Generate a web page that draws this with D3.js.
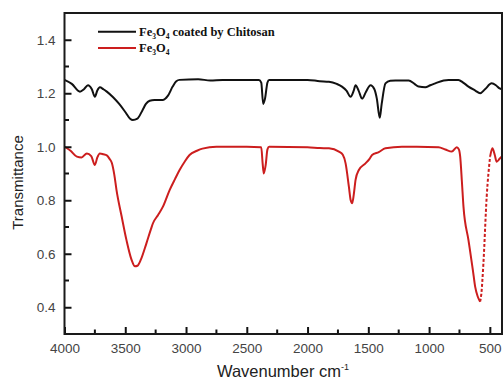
<!DOCTYPE html>
<html>
<head>
<meta charset="utf-8">
<script src="https://cdn.jsdelivr.net/npm/d3@7"></script>
<style>
  body { margin: 0; background: #fff; }
  svg { display: block; }
</style>
</head>
<body>
<svg id="chart" width="504" height="380"></svg>
<script>
// wavenumber (cm-1) and transmittance
const coatedWn = [4000, 3940, 3873, 3840, 3807, 3775, 3750, 3730, 3709, 3680, 3652, 3600, 3550, 3500, 3460, 3438, 3400, 3360, 3330, 3299, 3260, 3193, 3150, 3110, 3080, 3053, 2900, 2800, 2700, 2400, 2381, 2365, 2350, 2330, 2316, 2000, 1900, 1824, 1760, 1717, 1680, 1646, 1620, 1605, 1580, 1551, 1520, 1482, 1450, 1430, 1406, 1390, 1359, 1320, 1277, 1168, 1120, 1086, 1031, 990, 949, 880, 840, 758, 720, 676, 620, 580, 540, 485, 450, 420, 400];
const coatedT = [1.25, 1.235, 1.206, 1.215, 1.23, 1.215, 1.187, 1.21, 1.222, 1.215, 1.206, 1.185, 1.16, 1.13, 1.105, 1.10, 1.105, 1.135, 1.16, 1.172, 1.175, 1.175, 1.19, 1.225, 1.245, 1.25, 1.252, 1.248, 1.25, 1.25, 1.24, 1.16, 1.18, 1.24, 1.25, 1.25, 1.245, 1.243, 1.235, 1.225, 1.21, 1.187, 1.21, 1.23, 1.21, 1.18, 1.205, 1.23, 1.215, 1.18, 1.108, 1.16, 1.237, 1.247, 1.248, 1.248, 1.235, 1.225, 1.222, 1.23, 1.237, 1.248, 1.25, 1.25, 1.24, 1.225, 1.21, 1.2, 1.215, 1.237, 1.23, 1.218, 1.215];

const bareWn = [4000, 3950, 3898, 3860, 3816, 3780, 3750, 3730, 3709, 3680, 3652, 3630, 3611, 3590, 3572, 3530, 3490, 3450, 3420, 3400, 3370, 3326, 3290, 3272, 3230, 3190, 3135, 3090, 3053, 3010, 2971, 2910, 2865, 2750, 2500, 2381, 2370, 2360, 2345, 2330, 2316, 2000, 1900, 1824, 1742, 1710, 1687, 1660, 1645, 1633, 1620, 1605, 1578, 1523, 1490, 1469, 1414, 1359, 1223, 1100, 922, 867, 813, 772, 755, 744, 730, 717, 676, 640, 621, 600, 580, 570, 553, 526, 498, 479, 460, 444, 420, 403];
const bareT = [1.0, 0.985, 0.963, 0.96, 0.975, 0.965, 0.932, 0.96, 0.975, 0.972, 0.968, 0.955, 0.94, 0.895, 0.838, 0.74, 0.651, 0.58, 0.553, 0.555, 0.58, 0.639, 0.69, 0.714, 0.745, 0.776, 0.838, 0.88, 0.913, 0.945, 0.969, 0.985, 0.993, 1.0, 1.0, 0.998, 0.94, 0.90, 0.93, 0.99, 1.0, 0.998, 0.995, 0.994, 0.982, 0.97, 0.938, 0.851, 0.80, 0.789, 0.82, 0.876, 0.913, 0.938, 0.955, 0.969, 0.98, 0.994, 1.0, 1.0, 0.998, 0.99, 0.982, 0.998, 0.99, 0.963, 0.87, 0.776, 0.651, 0.54, 0.477, 0.44, 0.421, 0.45, 0.564, 0.813, 0.963, 0.994, 0.97, 0.944, 0.955, 0.963];

const xTicks = [4000, 3500, 3000, 2500, 2000, 1500, 1000, 500];
const xMinor = [3750, 3250, 2750, 2250, 1750, 1250, 750];
const yTicks = [0.4, 0.6, 0.8, 1.0, 1.2, 1.4];
const yMinor = [0.5, 0.7, 0.9, 1.1, 1.3];

const seriesNames = ["coated", "bare"];

const margin = { top: 13, right: 2, bottom: 46, left: 64.5 };
const width = 504, height = 380;

const svg = d3.select("#chart");

const x = d3.scaleLinear().domain([4000, 400]).range([margin.left, width - margin.right]);
const y = d3.scaleLinear().domain([0.3, 1.5]).range([height - margin.bottom, margin.top]);

const toPts = (wn, t) => wn.map((w, i) => ({ w: w, t: t[i] }));
const coated = toPts(coatedWn, coatedT);
const bare = toPts(bareWn, bareT);

const line = d3.line()
  .x(d => x(d.w))
  .y(d => y(d.t))
  .curve(d3.curveMonotoneX);

// curves
svg.append("path")
  .attr("d", line(coated))
  .attr("fill", "none")
  .attr("stroke", "#111")
  .attr("stroke-width", 2);

// the steep rising edge near 550 cm-1 is drawn sparse (dashed) in the figure
const dashFrom = 580, dashTo = 498;
svg.append("path")
  .attr("d", line(bare.filter(d => d.w >= dashFrom)))
  .attr("fill", "none")
  .attr("stroke", "#cc1e1e")
  .attr("stroke-width", 2);
svg.append("path")
  .attr("d", line(bare.filter(d => d.w <= dashFrom && d.w >= dashTo)))
  .attr("fill", "none")
  .attr("stroke", "#cc1e1e")
  .attr("stroke-width", 2)
  .attr("stroke-dasharray", "3,2");
svg.append("path")
  .attr("d", line(bare.filter(d => d.w <= dashTo)))
  .attr("fill", "none")
  .attr("stroke", "#cc1e1e")
  .attr("stroke-width", 2);

// axes (ticks pointing inward)
const xAxis = d3.axisBottom(x).tickValues(xTicks).tickSizeInner(-7).tickSizeOuter(0).tickPadding(9)
  .tickFormat(d3.format("d"));
const gx = svg.append("g")
  .attr("transform", "translate(0," + (height - margin.bottom) + ")")
  .call(xAxis);
xMinor.forEach(v => {
  gx.append("line").attr("x1", x(v)).attr("x2", x(v)).attr("y1", 0).attr("y2", -4.5)
    .attr("stroke", "#111").attr("stroke-width", 2);
});

const yAxis = d3.axisLeft(y).tickValues(yTicks).tickSizeInner(-7).tickSizeOuter(0).tickPadding(9)
  .tickFormat(d3.format(".1f"));
const gy = svg.append("g")
  .attr("transform", "translate(" + margin.left + ",0)")
  .call(yAxis);
yMinor.forEach(v => {
  gy.append("line").attr("x1", 0).attr("x2", 4.5).attr("y1", y(v)).attr("y2", y(v))
    .attr("stroke", "#111").attr("stroke-width", 2);
});

svg.selectAll(".tick line").attr("stroke", "#111").attr("stroke-width", 2);
svg.selectAll(".domain").remove();
svg.selectAll(".tick text")
  .attr("fill", "#444")
  .style("font-family", "'Liberation Sans', Arial, sans-serif")
  .style("font-size", "13.5px");

// frame
svg.append("rect")
  .attr("x", margin.left)
  .attr("y", margin.top)
  .attr("width", width - margin.right - margin.left)
  .attr("height", height - margin.bottom - margin.top)
  .attr("fill", "none")
  .attr("stroke", "#1a1a1a")
  .attr("stroke-width", 2);

// axis titles
const xt = svg.append("text")
  .attr("x", 283)
  .attr("y", 376.5)
  .attr("text-anchor", "middle")
  .attr("fill", "#222")
  .style("font-family", "'Liberation Sans', Arial, sans-serif")
  .style("font-size", "16.5px");
xt.append("tspan").text("Wavenumber cm");
xt.append("tspan").attr("dy", -7).style("font-size", "9px").text("-1");

svg.append("text")
  .attr("transform", "translate(23," + 182.5 + ") rotate(-90)")
  .attr("text-anchor", "middle")
  .attr("fill", "#222")
  .style("font-family", "'Liberation Sans', Arial, sans-serif")
  .style("font-size", "15px")
  .text("Transmittance");

// legend
const legendColors = { coated: "#111", bare: "#cc1e1e" };
const legend = svg.append("g")
  .style("font-family", "'Liberation Serif', 'Times New Roman', serif")
  .style("font-weight", "bold")
  .style("font-size", "12.5px")
  .attr("fill", "#111");

seriesNames.forEach((s, i) => {
  const ly = 31.7 + i * 16.3;
  legend.append("line")
    .attr("x1", 98).attr("x2", 136).attr("y1", ly).attr("y2", ly)
    .attr("stroke", legendColors[s]).attr("stroke-width", 2);
  const t = legend.append("text").attr("x", 139).attr("y", ly + 4);
  t.append("tspan").text("Fe");
  t.append("tspan").attr("dy", 3).style("font-size", "7.5px").text("3");
  t.append("tspan").attr("dy", -3).text("O");
  t.append("tspan").attr("dy", 3).style("font-size", "7.5px").text("4");
  if (s === "coated") {
    t.append("tspan").attr("dy", -3).text(" coated by Chitosan");
  }
});
</script>
</body>
</html>
